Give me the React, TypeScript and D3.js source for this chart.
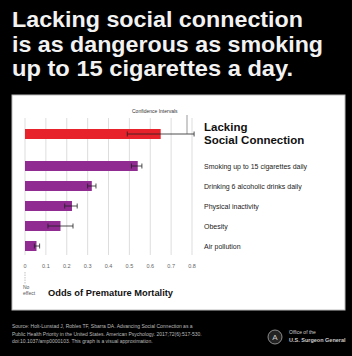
import React from "react";
import * as d3 from "d3";

const titleLines = ["Lacking social connection", "is as dangerous as smoking", "up to 15 cigarettes a day."];
const categories = [
  "Lacking Social Connection",
  "Smoking up to 15 cigarettes daily",
  "Drinking 6 alcoholic drinks daily",
  "Physical inactivity",
  "Obesity",
  "Air pollution",
];
const values = [0.65, 0.54, 0.32, 0.225, 0.17, 0.055];
const ciLow = [0.49, 0.51, 0.3, 0.19, 0.11, 0.045];
const ciHigh = [0.81, 0.56, 0.34, 0.25, 0.23, 0.07];
const ticks = [0, 0.1, 0.2, 0.3, 0.4, 0.5, 0.6, 0.7, 0.8];
const sourceLines = [
  "Source: Holt-Lunstad J, Robles TF, Sbarra DA. Advancing Social Connection as a",
  "Public Health Priority in the United States. American Psychology. 2017;72(6):517-530.",
  "doi:10.1037/amp0000103. This graph is a visual approximation.",
];

export default function App() {
  const W = 352, H = 356;
  const x = d3.scaleLinear().domain([0, 0.8]).range([25, 192]);
  const others = categories.slice(1);
  const y = d3.scaleBand().domain(others).range([156, 256]).paddingInner(0.5).paddingOuter(0.25);
  const bh = y.bandwidth();
  const yOf = (c: string, i: number) => (i === 0 ? (y(others[0]) as number) - 32 : (y(c) as number));
  const font = "'Liberation Sans', Arial, sans-serif";
  const titleWidths = [291, 311, 281];
  return (
    <svg width={W} height={H} style={{ position: "absolute", left: 0, top: 0, display: "block" }} fontFamily={font}>
      <rect x={0} y={0} width={W} height={H} fill="#000" />
      {titleLines.map((t, i) => (
        <text key={i} x={12} y={27 + i * 24.5} fill="#f2f2f2" fontSize={21.5} fontWeight="bold"
          textLength={titleWidths[i]} lengthAdjust="spacingAndGlyphs">
          {t}
        </text>
      ))}
      <rect x={12} y={95} width={333} height={215} fill="#fff" stroke="#bbb" strokeWidth={1} />
      {ticks.map((t) => (
        <g key={t}>
          <line x1={x(t)} x2={x(t)} y1={118} y2={255} stroke="#d4d4d4" strokeWidth={0.8} />
          <text x={x(t)} y={268} fontSize={5.5} textAnchor="middle" fill="#666">
            {t === 0 ? "0" : d3.format(".1f")(t)}
          </text>
        </g>
      ))}
      <line x1={x(0)} x2={x(0)} y1={272} y2={284} stroke="#999" strokeWidth={0.6} strokeDasharray="1.5,1" />
      <text x={x(0) - 2} y={289} fontSize={5} fill="#555">No</text>
      <text x={x(0) - 2} y={295} fontSize={5} fill="#555">effect</text>
      <text x={48} y={296} fontSize={9.3} fontWeight="bold" fill="#111">Odds of Premature Mortality</text>
      {categories.map((c, i) => {
        const yy = yOf(c, i);
        const cy = yy + bh / 2;
        return (
          <g key={c}>
            <rect x={x(0)} y={yy} width={x(values[i]) - x(0)} height={bh} fill={i === 0 ? "#e8222b" : "#8f2b91"} />
            <line x1={x(ciLow[i])} x2={x(ciHigh[i])} y1={cy} y2={cy} stroke="#222" strokeWidth={0.8} />
            <line x1={x(ciLow[i])} x2={x(ciLow[i])} y1={cy - 2.5} y2={cy + 2.5} stroke="#222" strokeWidth={0.8} />
            <line x1={x(ciHigh[i])} x2={x(ciHigh[i])} y1={cy - 2.5} y2={cy + 2.5} stroke="#222" strokeWidth={0.8} />
          </g>
        );
      })}
      <text x={132} y={113} fontSize={5} fill="#333">Confidence Intervals</text>
      <polyline points={`${x(0.8) - 5},115 ${x(0.8) - 5},${yOf(categories[0], 0) + bh / 2} `} fill="none" stroke="#555" strokeWidth={0.6} />
      <text x={204} y={131} fontSize={11.5} fontWeight="bold" fill="#111">Lacking</text>
      <text x={204} y={144} fontSize={11.5} fontWeight="bold" fill="#111">Social Connection</text>
      {others.map((c) => (
        <text key={c} x={204} y={(y(c) as number) + bh / 2 + 2.5} fontSize={7} fill="#222">
          {c}
        </text>
      ))}
      {sourceLines.map((s, i) => (
        <text key={i} x={12} y={328 + i * 7.5} fontSize={5} fill="#bbb">
          {s}
        </text>
      ))}
      <circle cx={275} cy={337} r={7} fill="#222" stroke="#aaa" strokeWidth={0.8} />
      <text x={275} y={340} fontSize={8} textAnchor="middle" fill="#ccc">A</text>
      <text x={289} y={334} fontSize={5} fill="#ccc">Office of the</text>
      <text x={289} y={342} fontSize={5.5} fontWeight="bold" fill="#ccc">U.S. Surgeon General</text>
    </svg>
  );
}
